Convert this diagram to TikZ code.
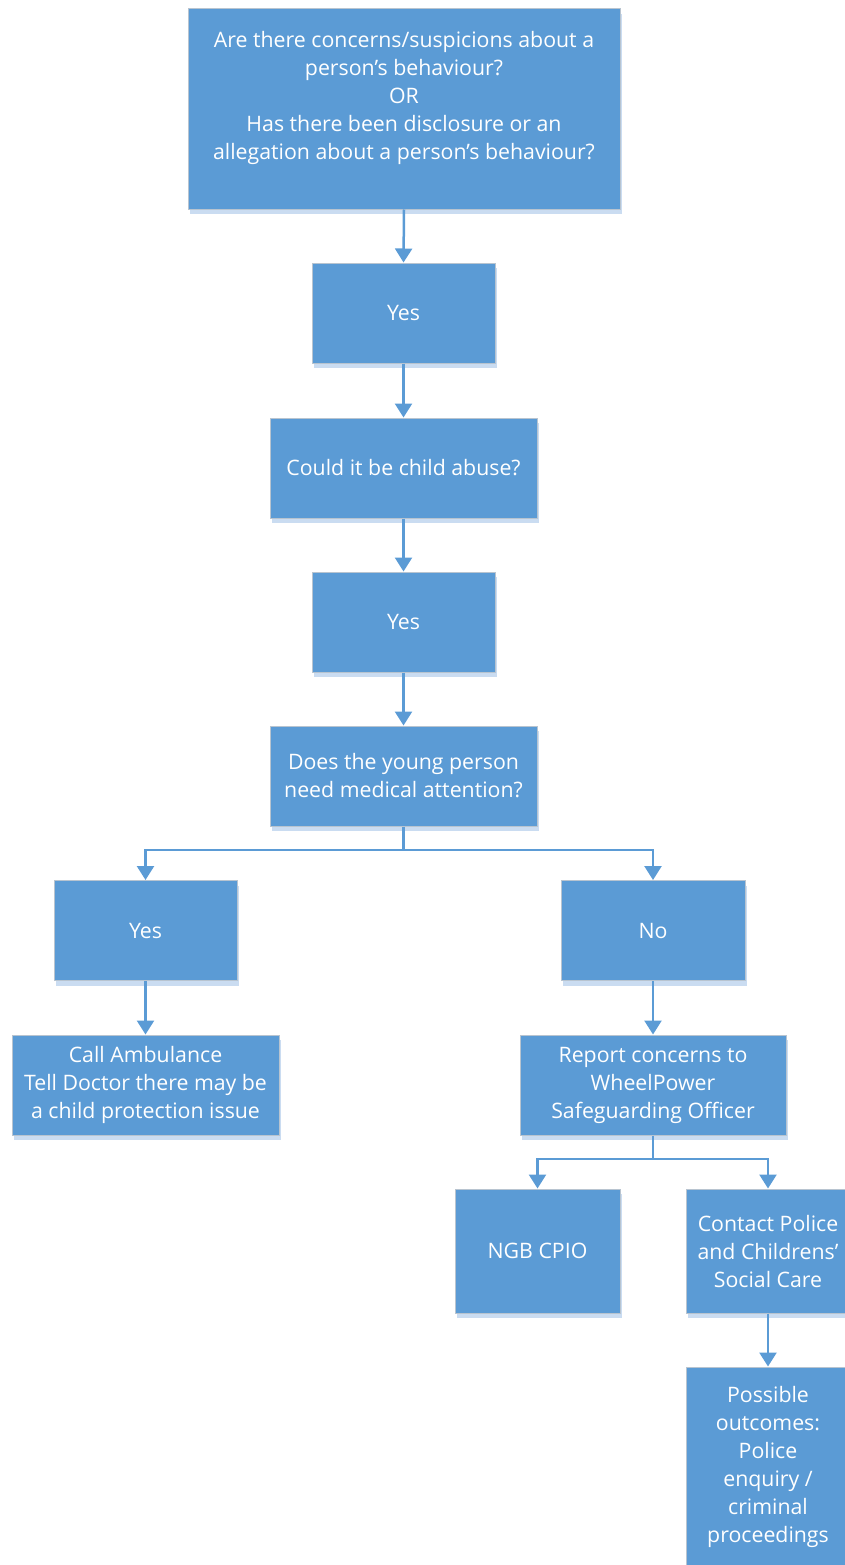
\documentclass[tikz,border=0pt]{standalone}
\usepackage{fontspec}
\setmainfont{Open Sans}
\usetikzlibrary{arrows.meta}
\definecolor{boxblue}{HTML}{5B9BD5}
\definecolor{shadeblue}{HTML}{CADCF1}
\definecolor{edgegray}{HTML}{B8C4D0}
\begin{document}
\begin{tikzpicture}[x=1pt,y=-1pt,
  box/.style={rectangle, fill=boxblue, draw=edgegray, line width=1pt,
    text=white, align=center, inner sep=0pt,
    font=\fontsize{21.3}{28}\selectfont,
    preaction={fill=shadeblue, transform canvas={xshift=2pt,yshift=-5pt}}},
  conn/.style={draw=boxblue, line width=2.5pt, -{Triangle[width=17pt,length=14pt]}},
  line/.style={draw=boxblue, line width=2.5pt}]
\useasboundingbox (0,0) rectangle (844,1565);
\node[box, minimum width=432pt, minimum height=200pt] (q1) at (404,109)
  {Are there concerns/suspicions about a\\person’s behaviour?\\OR\\Has there been disclosure or an\\allegation about a person’s behaviour?\\\mbox{}};
\node[box, minimum width=183pt, minimum height=100pt] (yes1) at (403.5,313) {Yes};
\node[box, minimum width=267pt, minimum height=100pt] (abuse) at (403.5,468) {Could it be child abuse?};
\node[box, minimum width=183pt, minimum height=100pt] (yes2) at (403.5,622) {Yes};
\node[box, minimum width=267pt, minimum height=100pt] (med) at (403.5,776) {Does the young person\\need medical attention?};
\node[box, minimum width=183pt, minimum height=100pt] (yes3) at (145.5,930.5) {Yes};
\node[box, minimum width=184pt, minimum height=100pt] (no) at (653,930.5) {No};
\node[box, minimum width=267pt, minimum height=100pt] (amb) at (145.5,1085) {Call Ambulance\\Tell Doctor there may be\\a child protection issue};
\node[box, minimum width=266pt, minimum height=100pt] (rep) at (653,1085) {Report concerns to\\WheelPower\\Safeguarding Officer};
\node[box, minimum width=165pt, minimum height=124pt] (ngb) at (537.5,1251) {NGB CPIO};
\node[box, minimum width=164pt, minimum height=124pt] (pol) at (768,1251) {Contact Police\\and Childrens’\\Social Care};
\node[box, minimum width=164pt, minimum height=200pt] (out) at (768,1467) {Possible\\outcomes:\\Police\\enquiry /\\criminal\\proceedings};
\coordinate (b1) at (403.5,850);
\coordinate (b2) at (653,1159);
\draw[conn] (q1.south) -- (yes1.north);
\draw[conn] (yes1.south) -- (abuse.north);
\draw[conn] (abuse.south) -- (yes2.north);
\draw[conn] (yes2.south) -- (med.north);
\draw[line] (med.south) -- (b1);
\draw[conn] (b1) -| (yes3.north);
\draw[conn] (b1) -| (no.north);
\draw[conn] (yes3.south) -- (amb.north);
\draw[conn] (no.south) -- (rep.north);
\draw[line] (rep.south) -- (b2);
\draw[conn] (b2) -| (ngb.north);
\draw[conn] (b2) -| (pol.north);
\draw[conn] (pol.south) -- (out.north);
\end{tikzpicture}
\end{document}
